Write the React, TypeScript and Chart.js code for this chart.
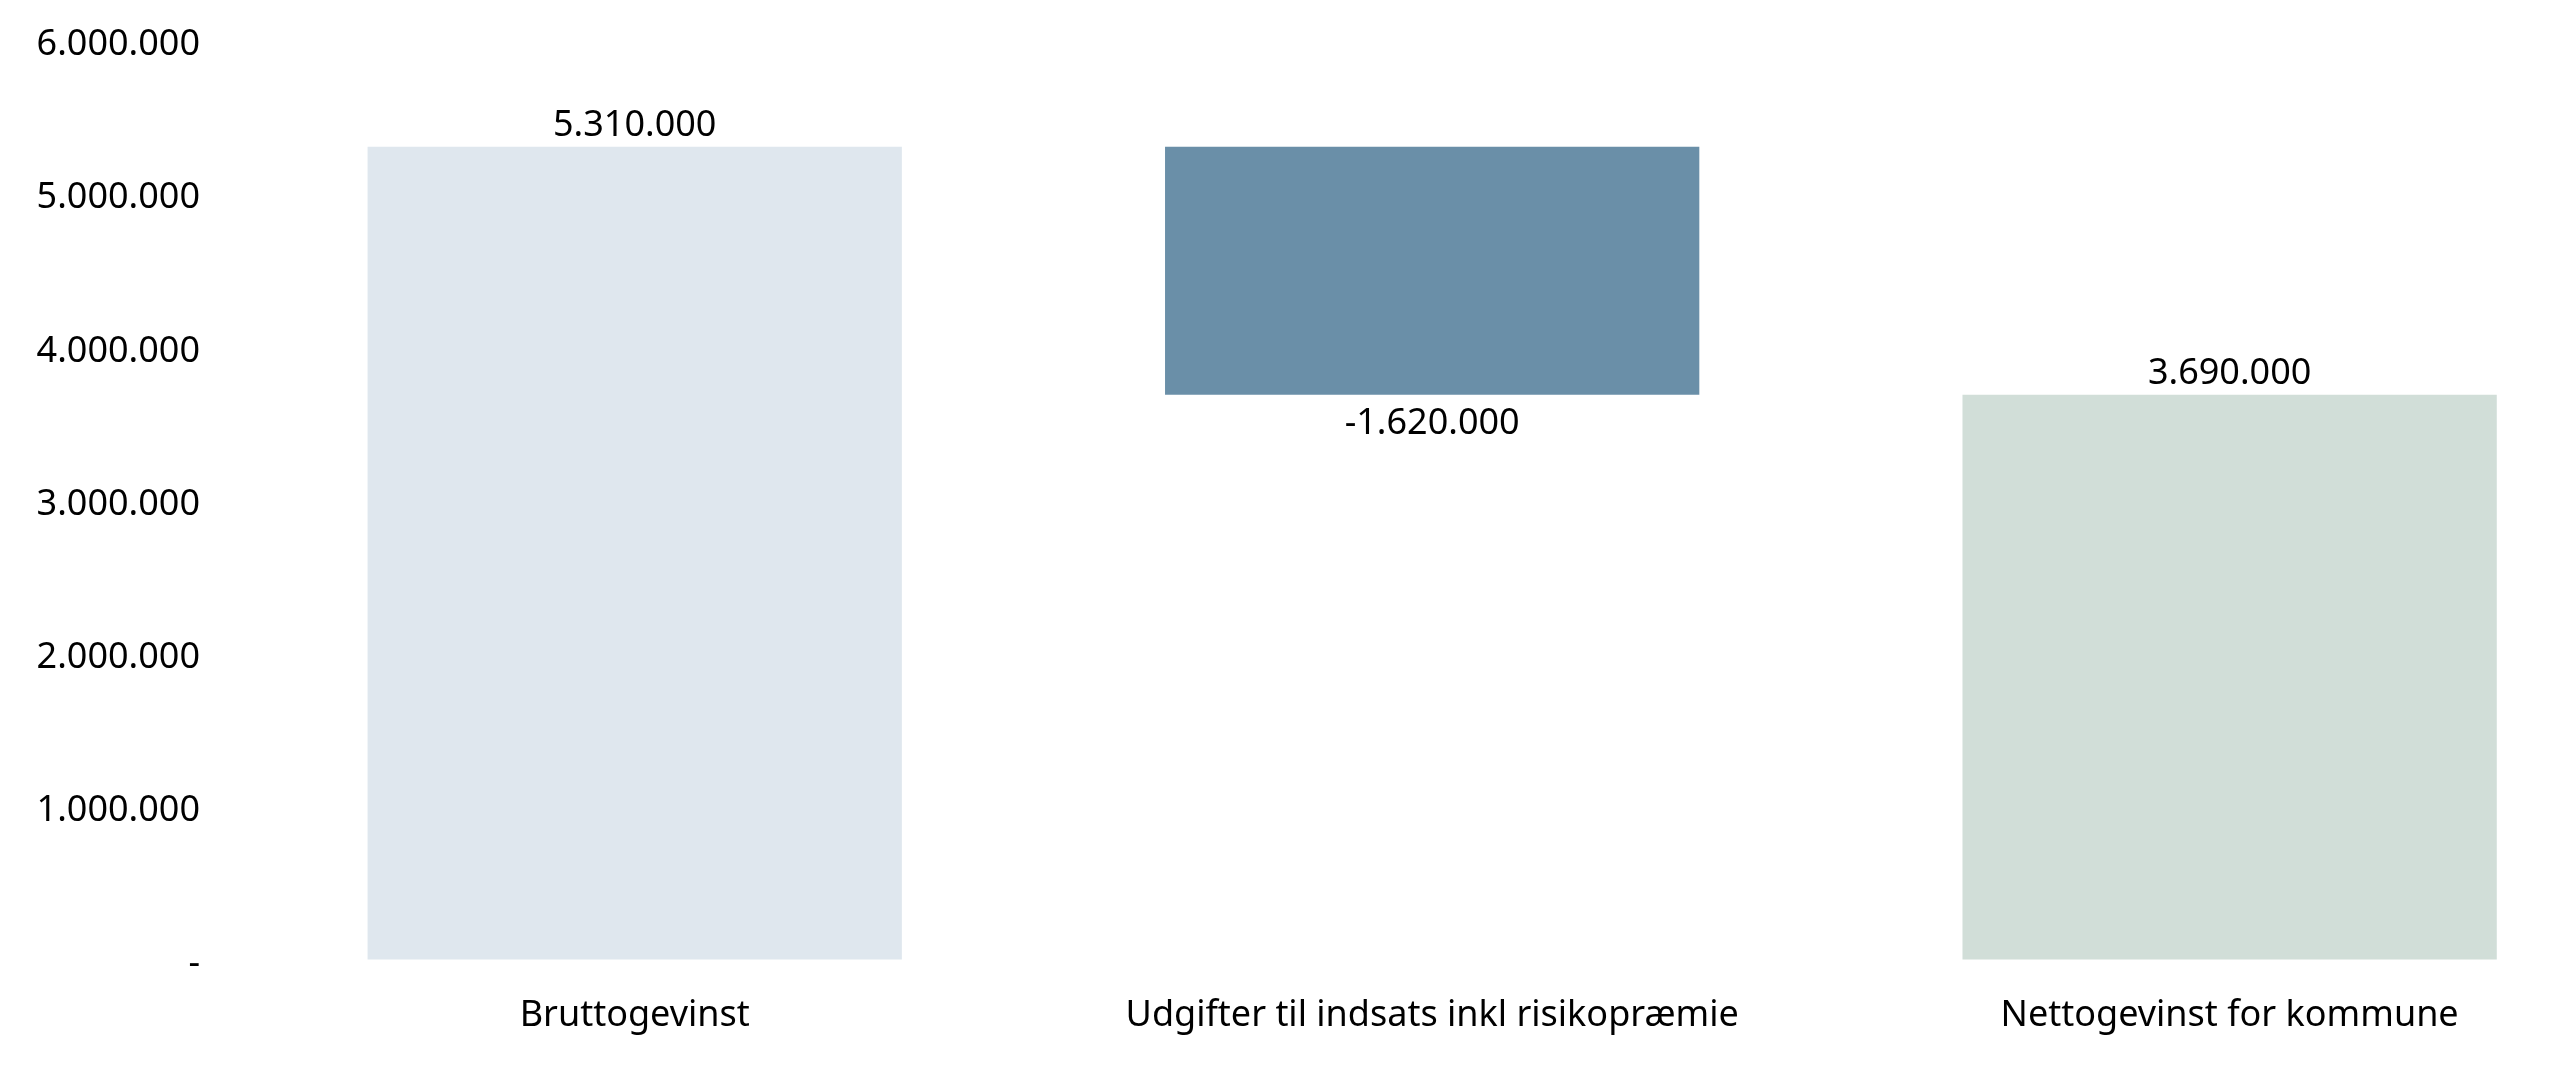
import React, { useEffect, useRef } from 'react';
import { Chart, registerables } from 'chart.js';

Chart.register(...registerables);

const categories = [
  'Bruttogevinst',
  'Udgifter til indsats inkl risikopræmie',
  'Nettogevinst for kommune',
];
const amounts = [5310000, -1620000, 3690000];
// totals start at zero, changes float from the running total
const isTotal = [true, false, true];
const barColors = ['#DFE7EE', '#6A8FA8', '#D1DED8'];
const yTickValues = [0, 1000000, 2000000, 3000000, 4000000, 5000000, 6000000];

const FONT = '"Noto Sans", sans-serif';

const formatNumber = (v: number) => {
  if (v === 0) return '-';
  const s = Math.abs(v).toString().replace(/\B(?=(\d{3})+(?!\d))/g, '.');
  return (v < 0 ? '-' : '') + s;
};

// waterfall ranges built from the amounts
const buildRanges = () => {
  let running = 0;
  return amounts.map((a, i) => {
    if (isTotal[i]) {
      running = a;
      return [0, a];
    }
    const start = running;
    running += a;
    return [start, running];
  });
};

const valueLabels = {
  id: 'valueLabels',
  afterDatasetsDraw(chart: any) {
    const { ctx } = chart;
    const meta = chart.getDatasetMeta(0);
    ctx.save();
    ctx.font = `36px ${FONT}`;
    ctx.fillStyle = '#000';
    ctx.textAlign = 'center';
    ctx.textBaseline = 'middle';
    meta.data.forEach((bar: any, i: number) => {
      const top = Math.min(bar.y, bar.base);
      const bottom = Math.max(bar.y, bar.base);
      const text = formatNumber(amounts[i]);
      if (amounts[i] < 0) ctx.fillText(text, bar.x, bottom + 29);
      else ctx.fillText(text, bar.x, top - 21);
    });
    ctx.restore();
  },
};

const App: React.FC = () => {
  const canvasRef = useRef<HTMLCanvasElement | null>(null);

  useEffect(() => {
    document.body.style.margin = '0';
    if (!canvasRef.current) return;
    const ranges = buildRanges();

    const chart = new Chart(canvasRef.current, {
      type: 'bar',
      data: {
        datasets: [
          {
            data: ranges.map((r, i) => ({ x: i, y: r })) as any,
            backgroundColor: barColors,
            borderWidth: 0,
            barPercentage: 0.67,
            categoryPercentage: 1,
          },
        ],
      },
      options: {
        responsive: false,
        animation: false,
        devicePixelRatio: 1,
        layout: { padding: { top: 41, left: 0, right: 0, bottom: 0 } },
        plugins: {
          legend: { display: false },
          tooltip: { enabled: false },
        },
        scales: {
          x: {
            type: 'linear',
            min: -0.5,
            max: 2.403,
            offset: false,
            grid: { display: false, drawTicks: false, offset: false },
            border: { display: false },
            afterBuildTicks: (axis: any) => {
              axis.ticks = categories.map((_, i) => ({ value: i }));
            },
            afterFit: (axis: any) => {
              axis.height = 107;
            },
            ticks: {
              color: '#000',
              font: { family: FONT, size: 36 },
              padding: 34,
              maxRotation: 0,
              autoSkip: false,
              callback: (v: any) => categories[v as number] ?? '',
            },
          },
          y: {
            min: 0,
            max: 6000000,
            // invisible tick marks give the gap between labels and bars
            grid: {
              display: true,
              drawOnChartArea: false,
              drawTicks: true,
              tickLength: 36,
              color: 'rgba(0,0,0,0)',
              tickColor: 'rgba(0,0,0,0)',
            },
            border: { display: false },
            afterBuildTicks: (axis: any) => {
              axis.ticks = yTickValues.map((value) => ({ value }));
            },
            afterFit: (axis: any) => {
              axis.width = 236;
            },
            ticks: {
              color: '#000',
              font: { family: FONT, size: 36 },
              padding: 0,
              labelOffset: 4,
              callback: (v: any) => formatNumber(v as number),
            },
          },
        },
      },
      plugins: [valueLabels],
    });

    return () => chart.destroy();
  }, []);

  return (
    <div style={{ width: 2551, height: 1067, background: '#fff' }}>
      <canvas ref={canvasRef} width={2551} height={1067} style={{ display: 'block' }} />
    </div>
  );
};

export default App;
